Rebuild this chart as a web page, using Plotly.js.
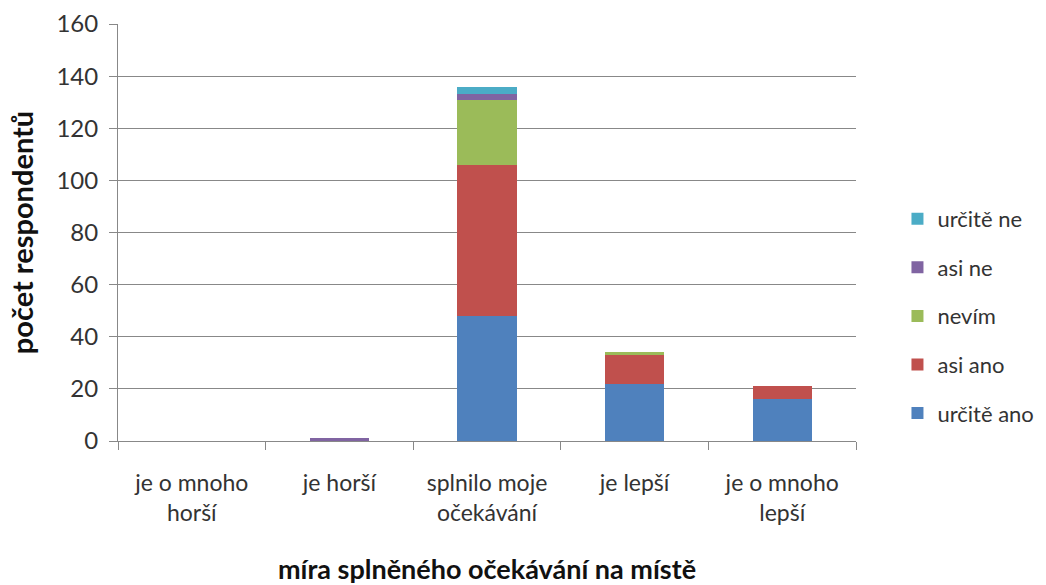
<!DOCTYPE html>
<html><head><meta charset="utf-8">
<script src="https://cdn.plot.ly/plotly-3.0.1.min.js"></script>
<style>body{margin:0;background:#fff}#c{width:1046px;height:585px}</style>
</head><body><div id="c"></div>
<script>
const categories = ["je o mnoho<br>horší", "je horší", "splnilo moje<br>očekávání", "je lepší", "je o mnoho<br>lepší"];
const seriesNames = ["určitě ano", "asi ano", "nevím", "asi ne", "určitě ne"];
const urciteAno = [0, 0, 48, 22, 16];
const asiAno = [0, 0, 58, 11, 5];
const nevim = [0, 0, 25, 1, 0];
const asiNe = [0, 1, 2, 0, 0];
const urciteNe = [0, 0, 3, 0, 0];
const yTicks = [0, 20, 40, 60, 80, 100, 120, 140, 160];
const colors = ["#4F81BD", "#C0504D", "#9BBB59", "#8064A2", "#4BACC6"];
const values = [urciteAno, asiAno, nevim, asiNe, urciteNe];
const font = "Lato, 'Open Sans', 'Liberation Sans', sans-serif";
const data = values.map((v, i) => ({
  type: "bar", x: categories, y: v, name: seriesNames[i],
  marker: {color: colors[i], line: {width: 0}},
  legendgroup: "g" + i, legendrank: 10 - i, hoverinfo: "x+y+name"
}));
const layout = {
  width: 1046, height: 585,
  margin: {l: 118, r: 190, t: 24, b: 144, autoexpand: false},
  barmode: "stack", bargap: 0.6,
  paper_bgcolor: "#fff", plot_bgcolor: "#fff",
  font: {family: font, color: "#333", size: 23},
  xaxis: {
    type: "category", tickson: "boundaries", ticks: "outside", ticklen: 8,
    tickcolor: "#888", showline: true, linecolor: "#888", linewidth: 1,
    tickfont: {size: 23, family: font, color: "#333"}, showgrid: false, ticklabelstandoff: 21,
    title: {text: "<b>míra splněného očekávání na místě</b>", font: {size: 27, family: font, color: "#111"}, standoff: 42}
  },
  yaxis: {
    range: [0, 160], tickvals: yTicks, ticks: "outside", ticklen: 8, tickcolor: "#888",
    showline: true, linecolor: "#888", linewidth: 1, gridcolor: "#888", gridwidth: 1,
    zeroline: false, tickfont: {size: 24, family: font, color: "#333"}, ticklabelstandoff: 6,
    title: {text: "<b>počet respondentů</b>", font: {size: 29, family: font, color: "#111"}, standoff: 14}
  },
  legend: {
    xref: "container", x: 0.858, y: 0.3, yanchor: "middle", xanchor: "left",
    traceorder: "grouped", tracegroupgap: 17,
    font: {size: 22, family: font, color: "#333"}, itemwidth: 30
  },
  showlegend: true
};
Plotly.newPlot("c", data, layout, {displayModeBar: false, staticPlot: true});
</script></body></html>
